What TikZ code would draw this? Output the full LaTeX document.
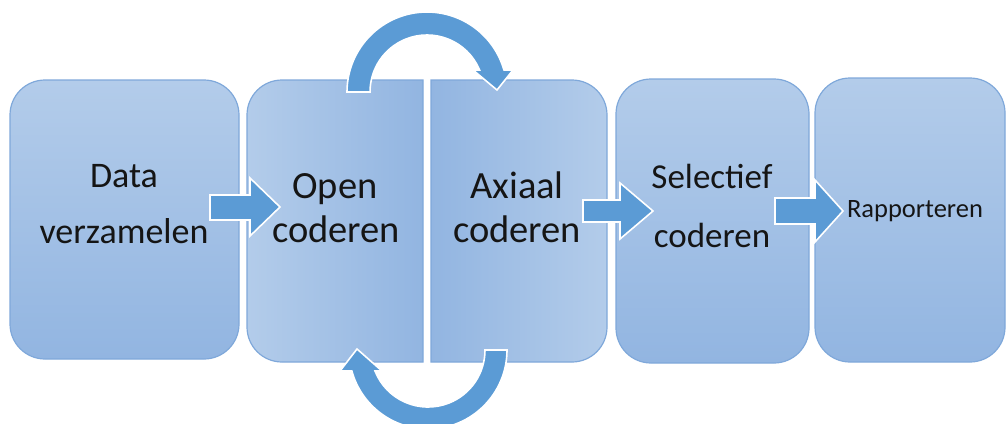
\documentclass[tikz,border=0pt]{standalone}
\usepackage{fontspec}
\setmainfont{Carlito}
\definecolor{arrowblue}{HTML}{5B9BD5}
\definecolor{boxlight}{HTML}{B3CCEA}
\definecolor{boxdark}{HTML}{92B5E1}
\definecolor{boxborder}{HTML}{7FA8DA}
\definecolor{txtc}{HTML}{151515}
\tikzset{
  stagebox/.style={draw=boxborder, line width=1.2pt, rounded corners=35pt, top color=boxlight, bottom color=boxdark, inner sep=0pt},
  blockarrow/.style={fill=arrowblue, draw=white, line width=1.6pt, line join=miter},
  lbl/.style={anchor=base, inner sep=0pt, text=txtc},
}
\begin{document}
\begin{tikzpicture}[x=1pt, y=-1pt]
\useasboundingbox (0,0) rectangle (1008,423);
% boxes
\node[stagebox, minimum width=229pt, minimum height=279pt] (b1) at (124.5,219.5) {};
\node[stagebox, minimum width=193pt, minimum height=284pt] (b4) at (712.5,221) {};
\node[stagebox, minimum width=190pt, minimum height=284pt] (b5) at (910,220) {};
% split middle box
\path[draw=boxborder, line width=1.2pt, left color=boxlight, right color=boxdark]
  (423,80) -- (282,80) arc[start angle=270, end angle=180, radius=35]
  -- (247,327) arc[start angle=180, end angle=90, radius=35] -- (423,362) -- cycle;
\path[draw=boxborder, line width=1.2pt, left color=boxdark, right color=boxlight]
  (431,80) -- (572,80) arc[start angle=270, end angle=360, radius=35]
  -- (607,327) arc[start angle=0, end angle=90, radius=35] -- (431,362) -- cycle;
\coordinate (b2) at (335,221);
\coordinate (b3) at (519,221);
% straight block arrows
\path[blockarrow] (210,195) -- (250,195) -- (250,178) -- (280,207) -- (250,236) -- (250,220) -- (210,220) -- cycle;
\path[blockarrow] (583,200) -- (620,200) -- (620,183) -- (653,211) -- (620,239) -- (620,222) -- (583,222) -- cycle;
\path[blockarrow] (775,198) -- (815,198) -- (815,180) -- (843,211) -- (815,242) -- (815,224) -- (775,224) -- cycle;
% curved arrow on top (open -> axiaal)
\path[blockarrow] (347,92) arc[start angle=180, end angle=344, radius=80]
  -- (513,70) -- (497,90) -- (473,70) -- (479.6,70)
  arc[start angle=337.3, end angle=180, radius=57] -- cycle;
% curved arrow at bottom (axiaal -> open)
\path[blockarrow] (507,350) arc[start angle=0, end angle=164.6, radius=79]
  -- (340,371) -- (357,349) -- (382,371) -- (375,371)
  arc[start angle=158.4, end angle=0, radius=57] -- cycle;
% labels
\node[lbl, font=\fontsize{36}{40}\selectfont] (d1) at (124,187) {Data};
\node[lbl, font=\fontsize{36}{40}\selectfont] (d2) at (124,243) {verzamelen};
\node[lbl, font=\fontsize{38.5}{44}\selectfont] (o1) at (335,198) {Open};
\node[lbl, font=\fontsize{38.5}{44}\selectfont] (o2) at (336,242) {coderen};
\node[lbl, font=\fontsize{38.5}{44}\selectfont] (a1) at (517,198) {Axiaal};
\node[lbl, font=\fontsize{38.5}{44}\selectfont] (a2) at (517,242) {coderen};
\node[lbl, font=\fontsize{35}{40}\selectfont] (s1) at (712,188) {Selectief};
\node[lbl, font=\fontsize{35}{40}\selectfont] (s2) at (712,247) {coderen};
\node[lbl, font=\fontsize{26.5}{30}\selectfont] (r1) at (915,217) {Rapporteren};
\end{tikzpicture}
\end{document}
